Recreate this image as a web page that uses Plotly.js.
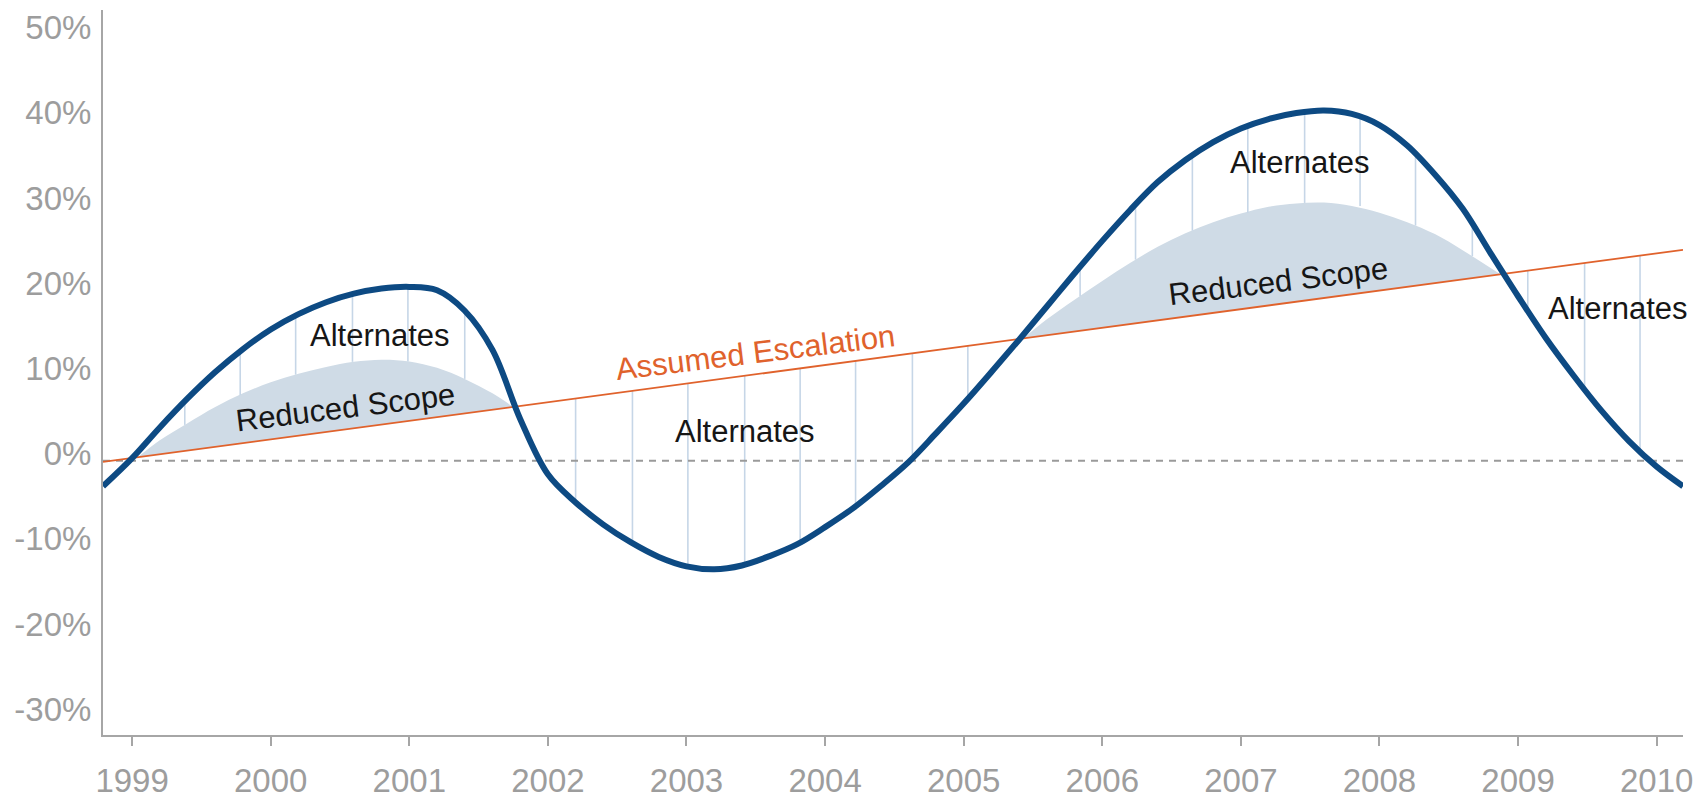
<!DOCTYPE html>
<html>
<head>
<meta charset="utf-8">
<script src="https://cdn.plot.ly/plotly-3.0.1.min.js"></script>
<style>
  html, body { margin: 0; padding: 0; background: #ffffff; }
  #chart { width: 1706px; height: 798px; }
</style>
</head>
<body>
<div id="chart"></div>
<script>
// ---- Data ----
const tickYears = [1999, 2000, 2001, 2002, 2003, 2004, 2005, 2006, 2007, 2008, 2009, 2010];
const tickYearLabels = ['1999', '2000', '2001', '2002', '2003', '2004', '2005', '2006', '2007', '2008', '2009', '2010'];
const yTickValues = [-30, -20, -10, 0, 10, 20, 30, 40, 50];
const yTickLabels = ['-30%', '-20%', '-10%', '0%', '10%', '20%', '30%', '40%', '50%'];

// Actual cost escalation curve (thick blue)
const curveYears = [1998.79, 1999.0, 1999.2, 1999.4, 1999.6, 1999.8, 2000.0, 2000.2, 2000.4, 2000.6,
  2000.8, 2001.0, 2001.2, 2001.4, 2001.6, 2001.8, 2002.0, 2002.2, 2002.4, 2002.6,
  2002.8, 2003.0, 2003.2, 2003.4, 2003.6, 2003.8, 2004.0, 2004.2, 2004.4, 2004.6,
  2004.8, 2005.0, 2005.2, 2005.4, 2005.6, 2005.8, 2006.0, 2006.2, 2006.4, 2006.6,
  2006.8, 2007.0, 2007.2, 2007.4, 2007.6, 2007.8, 2008.0, 2008.2, 2008.4, 2008.6,
  2008.8, 2009.0, 2009.2, 2009.4, 2009.6, 2009.8, 2010.0, 2010.19];
const curveValues = [-3.0, 0.3, 3.9, 7.3, 10.4, 13.1, 15.4, 17.2, 18.6, 19.6,
  20.2, 20.4, 20.0, 17.6, 13.0, 4.9, -1.6, -4.9, -7.5, -9.6,
  -11.3, -12.4, -12.75, -12.3, -11.2, -9.8, -7.8, -5.6, -3.0, -0.2,
  3.2, 6.7, 10.4, 14.2, 18.1, 22.0, 25.8, 29.4, 32.7, 35.3,
  37.4, 39.0, 40.1, 40.8, 41.1, 40.7, 39.4, 37.0, 33.6, 29.6,
  24.4, 19.3, 14.4, 10.0, 5.9, 2.3, -0.7, -3.0];

// Assumed escalation (straight orange line)
const escalationYears = [1998.79, 2010.19];
const escalationValues = [-0.15, 24.75];

// Zero reference (dashed)
const zeroYears = [1998.79, 2010.19];
const zeroValues = [0, 0];

// Reduced scope areas (upper edge, both ends on the escalation line)
const scope1Years = [1999.04, 1999.2, 1999.4, 1999.6, 1999.8, 2000.0, 2000.2, 2000.4, 2000.6, 2000.8,
  2001.0, 2001.2, 2001.4, 2001.6, 2001.75];
const scope1Values = [0.4, 2.4, 4.4, 6.3, 7.9, 9.2, 10.2, 11.0, 11.6, 11.85,
  11.65, 10.9, 9.6, 7.9, 6.3];
const scope2Years = [2005.43, 2005.6, 2005.8, 2006.0, 2006.2, 2006.4, 2006.6, 2006.8, 2007.0, 2007.2,
  2007.4, 2007.6, 2007.8, 2008.0, 2008.2, 2008.4, 2008.6, 2008.87];
const scope2Values = [14.35, 16.6, 18.9, 21.1, 23.2, 25.1, 26.7, 28.0, 29.0, 29.8,
  30.2, 30.3, 29.9, 29.1, 28.0, 26.6, 24.7, 21.9];

// "Alternates" hatch lines (from lower edge to upper edge)
const hatchYears = [1999.38, 1999.78, 2000.18, 2000.59, 2000.99, 2001.40, 2002.20, 2002.61, 2003.01, 2003.42,
  2003.82, 2004.22, 2004.63, 2005.03, 2005.84, 2006.24, 2006.65, 2007.05, 2007.46, 2007.86,
  2008.26, 2008.67, 2009.07, 2009.48, 2009.88];
const hatchFrom = [4.2, 7.7, 10.1, 11.6, 11.65, 9.6, 7.3, 8.2, 9.1, 9.95,
  10.8, 11.7, 12.6, 13.5, 19.3, 23.6, 27.0, 29.1, 30.25, 29.9,
  27.6, 24.0, 22.3, 23.2, 24.1];
const hatchTo = [7.0, 12.8, 17.0, 19.55, 20.4, 17.6, -4.9, -9.7, -12.4, -12.2,
  -9.6, -5.4, 0.3, 7.2, 22.6, 30.0, 35.8, 39.1, 40.9, 40.6,
  36.0, 27.8, 17.6, 8.4, 1.1];

// ---- Build traces ----
const hx = [], hy = [];
hatchYears.forEach((x, i) => { hx.push(x, x, null); hy.push(hatchFrom[i], hatchTo[i], null); });

const FONT = 'Liberation Sans, Arial, Helvetica, sans-serif';
const traces = [
  { x: scope1Years, y: scope1Values, type: 'scatter', mode: 'lines', fill: 'toself',
    fillcolor: '#cfdbe6', line: { color: 'rgba(0,0,0,0)', width: 0, shape: 'spline' }, hoverinfo: 'skip' },
  { x: scope2Years, y: scope2Values, type: 'scatter', mode: 'lines', fill: 'toself',
    fillcolor: '#cfdbe6', line: { color: 'rgba(0,0,0,0)', width: 0, shape: 'spline' }, hoverinfo: 'skip' },
  { x: hx, y: hy, type: 'scatter', mode: 'lines', line: { color: '#c6d6e7', width: 1.6 }, hoverinfo: 'skip' },
  { x: zeroYears, y: zeroValues, type: 'scatter', mode: 'lines',
    line: { color: '#9a9a9a', width: 2, dash: '7px,6px' }, hoverinfo: 'skip' },
  { x: escalationYears, y: escalationValues, type: 'scatter', mode: 'lines',
    line: { color: '#e0622c', width: 1.8 } },
  { x: curveYears, y: curveValues, type: 'scatter', mode: 'lines',
    line: { color: '#0d4a83', width: 6, shape: 'spline', smoothing: 1 } }
];

const annFont = { family: FONT, size: 31, color: '#161616' };
const annotations = [
  { x: 2000.79, y: 14.7, text: 'Alternates' },
  { x: 2000.54, y: 6.3, text: 'Reduced Scope', textangle: -7 },
  { x: 2003.50, y: 12.7, text: 'Assumed Escalation', textangle: -7, font: { family: FONT, size: 31, color: '#e0622c' } },
  { x: 2003.42, y: 3.4, text: 'Alternates' },
  { x: 2007.43, y: 35.0, text: 'Alternates' },
  { x: 2007.27, y: 21.0, text: 'Reduced Scope', textangle: -7 },
  { x: 2009.72, y: 17.9, text: 'Alternates' }
].map(a => Object.assign({ xref: 'x', yref: 'y', showarrow: false, xanchor: 'center', yanchor: 'middle', font: annFont }, a));

const layout = {
  width: 1706, height: 798,
  margin: { l: 103, r: 23, t: 10, b: 63, pad: 0 },
  paper_bgcolor: '#ffffff', plot_bgcolor: '#ffffff',
  showlegend: false,
  font: { family: FONT },
  xaxis: {
    range: [1998.79, 2010.19], tickvals: tickYears, ticktext: tickYearLabels,
    showgrid: false, zeroline: false, showline: true, linecolor: '#a6a6a6', linewidth: 2,
    ticks: 'outside', ticklen: 9, tickwidth: 2, tickcolor: '#a6a6a6',
    tickfont: { family: FONT, size: 33, color: '#9d9d9d' }, ticklabelstandoff: 6
  },
  yaxis: {
    range: [-32.2, 52.9], tickvals: yTickValues, ticktext: yTickLabels,
    showgrid: false, zeroline: false, showline: true, linecolor: '#a6a6a6', linewidth: 2,
    ticks: '', tickfont: { family: FONT, size: 33, color: '#9d9d9d' },
    ticklabelstandoff: 3, ticklabelshift: -7
  },
  annotations: annotations
};

Plotly.newPlot('chart', traces, layout, { staticPlot: true, displayModeBar: false });
</script>
</body>
</html>
